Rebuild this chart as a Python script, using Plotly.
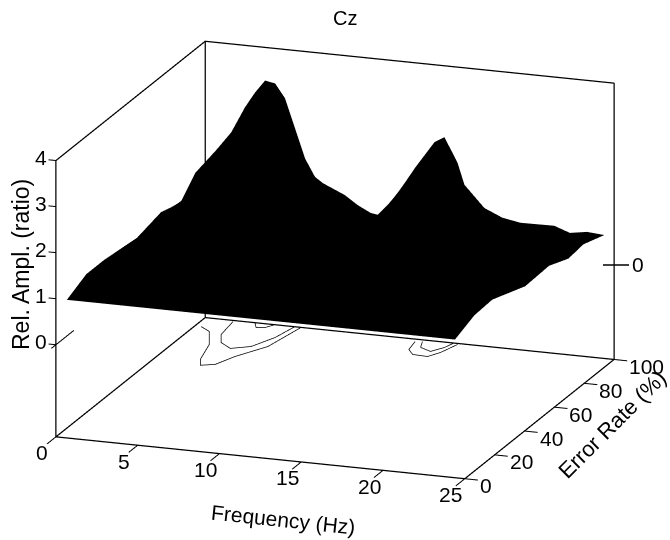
import plotly.graph_objects as go

title = "Cz"
x_title = "Frequency (Hz)"
y_title = "Error Rate (%)"
z_title = "Rel. Ampl. (ratio)"
freq_ticks = [0, 5, 10, 15, 20, 25]
err_ticks = [0, 20, 40, 60, 80, 100]
amp_ticks = [0, 1, 2, 3, 4]

freq = [0.67, 1.59, 2.44, 3.05, 3.66, 4.27, 4.88, 5.49, 6.1, 6.71, 7.2, 8.54, 9.33, 10.12, 10.85, 11.34, 11.95,
        12.87, 14.02, 14.63, 15.43, 15.85, 17.07, 18.17, 19.27, 21.34, 22.3, 23.35, 24.4]
err = [0, 13, 25, 47, 63, 76, 86, 100]
amp_e0 = [1.0] * 29
amp_e13 = [1.22, 1.18, 1.14, 1.12, 1.1, 1.1, 1.08, 1.07, 1.05, 1.04, 1.03, 1.02, 1.01, 1, 1, 1, 1, 1.01, 1.02, 1.02,
           1.01, 1.01, 1, 1, 1, 1.02, 1.06, 1.12, 1.19]
amp_e25 = [1.22, 1.2, 1.18, 1.16, 1.15, 1.15, 1.14, 1.12, 1.1, 1.08, 1.06, 1.04, 1.02, 1.0, 1.0, 1.0, 1.0, 1.03, 1.05,
           1.05, 1.03, 1.02, 1.0, 1.0, 1.0, 1.03, 1.08, 1.15, 1.22]
amp_e47 = [1.13, 1.16, 1.25, 1.3, 1.34, 1.33, 1.29, 1.2, 1.1, 1.05, 1.03, 1, 0.97, 0.95, 0.94, 0.95, 1.02, 1.11, 1.2,
           1.22, 1.14, 1.07, 1, 0.97, 0.96, 0.97, 0.95, 0.96, 0.94]
amp_e63 = [1.27, 1.32, 1.5, 1.6, 1.68, 1.67, 1.58, 1.39, 1.2, 1.09, 1.05, 0.99, 0.93, 0.89, 0.88, 0.9, 1.03, 1.22, 1.4,
           1.44, 1.28, 1.14, 1.0, 0.95, 0.93, 0.93, 0.9, 0.91, 0.97]
amp_e76 = [1.14, 1.49, 1.75, 1.9, 2.03, 2.0, 1.87, 1.59, 1.31, 1.14, 1.08, 0.99, 0.9, 0.84, 0.82, 0.86, 1.05, 1.33, 1.59,
           1.65, 1.41, 1.2, 1.0, 0.92, 0.89, 0.9, 0.84, 0.87, 0.79]
amp_e86 = [1.53, 1.65, 2.0, 2.2, 2.37, 2.34, 2.16, 1.79, 1.41, 1.18, 1.11, 0.98, 0.87, 0.78, 0.76, 0.81, 1.06, 1.44, 1.79,
           1.87, 1.55, 1.28, 1.0, 0.9, 0.86, 0.86, 0.79, 0.83, 0.84]
amp_e100 = [1.66, 2.08, 2.66, 3.0, 3.28, 3.24, 2.94, 2.31, 1.68, 1.3, 1.18, 0.97, 0.78, 0.64, 0.6, 0.68, 1.1, 1.74, 2.32,
            2.45, 1.92, 1.46, 1.0, 0.83, 0.76, 0.77, 0.65, 0.71, 0.68]

contours = [
    ([0.39, 1.16, 2.04, 2.57, 2.97, 3.72, 4.26, 5.36, 5.86], [93, 90, 80.4, 68.6, 64.2, 66, 73.4, 83.3, 99.9]),
    ([1.78, 2.01, 2.55, 3.45, 4.45, 5.14, 5.47], [99.1, 88.6, 82.7, 79, 82, 90.5, 100]),
    ([3.04, 3.43, 3.92, 4.26], [100, 96.5, 97.2, 100]),
    ([13.0, 13.2, 13.74, 14.69, 15.12, 15.5], [98.2, 91.8, 88.4, 88, 92, 99.2]),
    ([13.4, 13.7, 14.5, 15.0, 15.2], [98.7, 94.2, 92, 96, 100]),
]

F0, F1, E0, E1, Z0, Z1 = 0, 25, 0, 100, -2, 4
FONT = "Liberation Sans, Arial, sans-serif"
TICK_SIZE = 21
LAB_SIZE = 21
INK = "#000000"

fig = go.Figure()
fig.add_trace(go.Surface(
    x=freq, y=err,
    z=[amp_e0, amp_e13, amp_e25, amp_e47, amp_e63, amp_e76, amp_e86, amp_e100],
    colorscale=[[0, "black"], [1, "black"]], showscale=False,
    lighting=dict(ambient=1, diffuse=0, specular=0, fresnel=0),
))
# box edges
bx = [F0, F1, F1, F0, F0, F0, None, F0, F0, F1, F1, None, F0, F0]
by = [E0, E0, E1, E1, E0, E0, None, E0, E1, E1, E1, None, E1, E1]
bz = [Z0, Z0, Z0, Z0, Z0, Z1, None, Z1, Z1, Z1, Z0, None, Z0, Z1]
fig.add_trace(go.Scatter3d(x=bx, y=by, z=bz, mode="lines",
                           line=dict(color=INK, width=2.5), showlegend=False))
# tick marks
tx, ty, tz = [], [], []
for v in freq_ticks:
    tx += [v, v, None]; ty += [E0, E0 - 6, None]; tz += [Z0, Z0, None]
for v in err_ticks:
    tx += [F1, F1 + 0.8, None]; ty += [v, v, None]; tz += [Z0, Z0, None]
for v in amp_ticks:
    tx += [F0, F0 - 0.45, None]; ty += [E0, E0, None]; tz += [v, v, None]
tx += [F0, F0, None]; ty += [E0 - 3, E0 + 12, None]; tz += [0, 0, None]
fig.add_trace(go.Scatter3d(x=tx, y=ty, z=tz, mode="lines",
                           line=dict(color=INK, width=2), showlegend=False))
# contours on the floor
for cf, ce in contours:
    fig.add_trace(go.Scatter3d(x=cf, y=ce, z=[Z0] * len(cf), mode="lines",
                               line=dict(color=INK, width=1.5), showlegend=False))

font_t = dict(family=FONT, size=TICK_SIZE, color=INK)
font_l = dict(family=FONT, size=LAB_SIZE, color=INK)
scene_ann = []
for v in freq_ticks:
    scene_ann.append(dict(x=v, y=E0, z=Z0, text=str(v), showarrow=False, xshift=-14, yshift=-16, font=font_t))
for v in err_ticks:
    scene_ann.append(dict(x=F1, y=v, z=Z0, text=str(v), showarrow=False, xanchor="left", xshift=13, yshift=-7, font=font_t))
for v in amp_ticks:
    scene_ann.append(dict(x=F0, y=E0, z=v, text=str(v), showarrow=False, xshift=-15, yshift=3, font=font_t))

hidden = dict(showbackground=False, showgrid=False, zeroline=False, showline=False, showticklabels=False,
              ticks="", showspikes=False, title=dict(text=""))


def paper_text(text, px, py, font, angle=0):
    return dict(text=text, x=px / 670, y=1 - py / 540, xref="paper", yref="paper", showarrow=False,
                xanchor="center", yanchor="middle", textangle=angle, font=font)


fig.update_layout(
    width=670, height=540, margin=dict(l=0, r=0, t=0, b=0),
    paper_bgcolor="white", showlegend=False,
    scene=dict(
        domain=dict(x=[0, 1], y=[0.037, 1]),
        xaxis=dict(range=[-1, 26], **hidden),
        yaxis=dict(range=[-8, 108], **hidden),
        zaxis=dict(range=[Z0 - 0.2, Z1 + 0.2], **hidden),
        aspectmode="manual",
        aspectratio=dict(x=1.804, y=1.976, z=1.183),
        camera=dict(projection=dict(type="orthographic"),
                    up=dict(x=0, y=0, z=1),
                    center=dict(x=0, y=0, z=0),
                    eye=dict(x=0.323 * 1.137, y=-0.902 * 1.137, z=0.286 * 1.137)),
        annotations=scene_ann,
    ),
    shapes=[dict(type="line", xref="paper", yref="paper",
                 x0=603 / 670, x1=629 / 670, y0=1 - 265 / 540, y1=1 - 265 / 540,
                 line=dict(color=INK, width=1.5))],
    annotations=[
        paper_text(title, 345, 18, dict(family=FONT, size=20, color=INK)),
        paper_text("0", 638, 264, font_t),
        paper_text(x_title, 283, 519, font_l, 6),
        paper_text(y_title, 612, 424, dict(family=FONT, size=22, color=INK), -45),
        paper_text(z_title, 21, 265, dict(family=FONT, size=23, color=INK), -90),
    ],
)
fig.write_html("out.html", config=dict(displayModeBar=False),
               post_script="document.body.style.margin='0';document.documentElement.style.overflow='hidden';")
